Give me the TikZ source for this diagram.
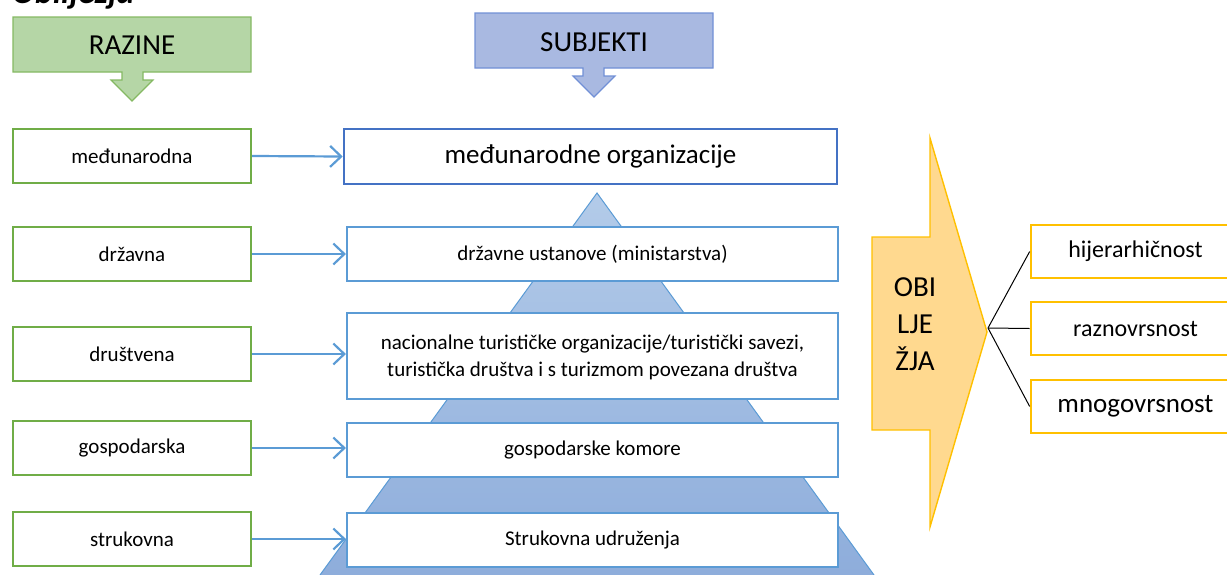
\documentclass[tikz,border=0pt]{standalone}
\usepackage{fontspec}
\setmainfont{Carlito}
\usetikzlibrary{arrows.meta}
\definecolor{grnB}{HTML}{70AD47}
\definecolor{grnF}{HTML}{B5D6A6}
\definecolor{bluB}{HTML}{5B9BD5}
\definecolor{bluD}{HTML}{4472C4}
\definecolor{subF}{HTML}{A9B9E1}
\definecolor{subB}{HTML}{7190D6}
\definecolor{pyrT}{HTML}{B3CBE9}
\definecolor{pyrB}{HTML}{8EADDB}
\definecolor{orB}{HTML}{FFC000}
\definecolor{orF}{HTML}{FFD98F}
\tikzset{
  fs/.style={font=\fontsize{#1}{#1}\selectfont},
  lvlbox/.style={draw=grnB, line width=2.2pt, fill=white, minimum width=238pt, minimum height=54pt, inner sep=0pt, fs=21},
  subbox/.style={draw=bluB, line width=2.2pt, fill=white, minimum width=491pt, inner sep=0pt, fs=21, align=center},
  featbox/.style={draw=orB, line width=2.6pt, fill=white, minimum width=209pt, minimum height=53pt, inner sep=0pt, fs=24},
  arr/.style={draw=bluB, line width=2.2pt, -{Straight Barb[length=11pt, width=21pt, line width=2.2pt]}},
  thin/.style={draw=black, line width=1pt}
}
\begin{document}
\begin{tikzpicture}[x=1pt, y=-1pt]
\useasboundingbox (0,0) rectangle (1227,574);
% cut title
\node[anchor=base west, inner sep=0pt, font=\bfseries\itshape\fontsize{34}{34}\selectfont] (title) at (12,3) {Obilježja};
% header arrows
\filldraw[fill=grnF, draw=grnB!85, line width=1.2pt]
  (13,17) -- (251,17) -- (251,72) -- (143,72) -- (143,80) -- (153,80) -- (132,101) -- (111,80) -- (122,80) -- (122,72) -- (13,72) -- cycle;
\node[fs=29] (raz) at (132,45) {RAZINE};
\filldraw[fill=subF, draw=subB, line width=1.2pt]
  (475,13) -- (713,13) -- (713,68) -- (604,68) -- (604,76) -- (615,76) -- (594,97) -- (573,76) -- (583,76) -- (583,68) -- (475,68) -- cycle;
\node[fs=29] (sub) at (594,42) {SUBJEKTI};
% pyramid
\shade[top color=pyrT, bottom color=pyrB] (597,193) -- (874,575) -- (320,575) -- cycle;
\draw[draw=bluB, line width=1pt] (320,575) -- (597,193) -- (874,575);
% subject boxes
\node[subbox, draw=bluD, line width=2.6pt, minimum width=493pt, minimum height=55pt, fs=27] (b1) at (590.5,156.5) {međunarodne organizacije};
\node[subbox, minimum height=54pt] (b2) at (592.5,254) {državne ustanove (ministarstva)};
\node[subbox, minimum height=86pt, text depth=0pt, font=\fontsize{21}{27}\selectfont] (b3) at (592.5,356) {nacionalne turističke organizacije/turistički savezi,\\ turistička društva i s turizmom povezana društva};
\node[subbox, minimum height=54pt] (b4) at (592.5,450) {gospodarske komore};
\node[subbox, minimum height=54pt] (b5) at (592.5,540) {Strukovna udruženja};
% level boxes
\node[lvlbox] (g1) at (132,156) {međunarodna};
\node[lvlbox] (g2) at (132,254) {državna};
\node[lvlbox] (g3) at (132,354) {društvena};
\node[lvlbox] (g4) at (132,448) {gospodarska};
\node[lvlbox] (g5) at (132,539) {strukovna};
% arrows
\draw[arr] (g1.east) -- (b1.west);
\draw[arr] (g2.east) -- (b2.west);
\draw[arr] (g3.east) -- (b3.west |- g3.east);
\draw[arr] (g4.east) -- (b4.west |- g4.east);
\draw[arr] (g5.east) -- (b5.west |- g5.east);
% obiljezja arrow
\filldraw[fill=orF, draw=orB, line width=1.4pt]
  (872,237) -- (930,237) -- (930,138) -- (987,332) -- (930,527) -- (930,430) -- (872,430) -- cycle;
\node[align=center, text depth=0pt, font=\fontsize{29}{37}\selectfont] (obi) at (915,324) {OBI\\LJE\\ŽJA};
% feature boxes
\node[featbox] (o1) at (1135.5,251.5) {hijerarhičnost};
\node[featbox] (o2) at (1135.5,328.5) {raznovrsnost};
\node[featbox, fs=27] (o3) at (1135.5,406.5) {mnogovrsnost};
\coordinate (tip) at (988,328);
\draw[thin] (tip) -- (o1.west);
\draw[thin] (tip) -- (o2.west);
\draw[thin] (tip) -- (o3.west);
\end{tikzpicture}
\end{document}
